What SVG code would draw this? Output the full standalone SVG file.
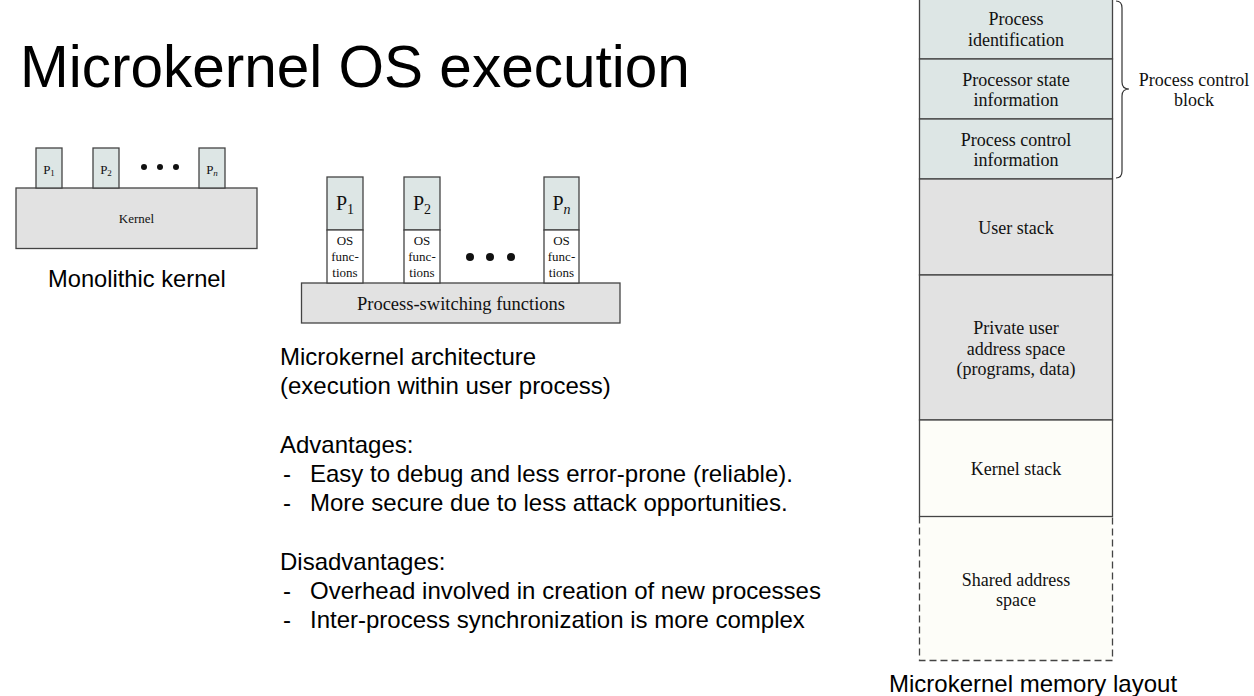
<svg xmlns="http://www.w3.org/2000/svg" width="1254" height="696" viewBox="0 0 1254 696">
  <style>
    .sans { font-family: "Liberation Sans", Arial, Helvetica, sans-serif; fill: #000; }
    .body { font-size: 24px; }
    .serif { font-family: "Liberation Serif", "Times New Roman", serif; fill: #111; text-anchor: middle; }
    .box { stroke: #444; stroke-width: 1.3; }
    .pcb { fill: #dde6e5; }
    .gray { fill: #e2e2e2; }
    .ivory { fill: #fdfdf8; }
    .white { fill: #ffffff; }
    .dot { fill: #111; }
  </style>

  <rect width="1254" height="696" fill="#ffffff"/>

  <!-- Title -->
  <text class="sans" x="20" y="87" font-size="58.5">Microkernel OS execution</text>

  <!-- Monolithic kernel -->
  <g id="monolithic">
    <g id="mono-kernel">
      <rect class="box gray" x="16" y="188" width="241" height="60.5"/>
      <text class="serif" x="136.5" y="223" font-size="13">Kernel</text>
    </g>
    <g id="mono-p1">
      <rect class="box pcb" x="36" y="148" width="26" height="40"/>
      <text class="serif" x="49" y="174" font-size="13">P<tspan font-size="9" dy="2">1</tspan></text>
    </g>
    <g id="mono-p2">
      <rect class="box pcb" x="93" y="148" width="26" height="40"/>
      <text class="serif" x="106" y="174" font-size="13">P<tspan font-size="9" dy="2">2</tspan></text>
    </g>
    <g id="mono-pn">
      <rect class="box pcb" x="199" y="148" width="26" height="40"/>
      <text class="serif" x="212" y="174" font-size="13">P<tspan font-size="9" dy="2" font-style="italic">n</tspan></text>
    </g>
    <circle class="dot" cx="144" cy="167" r="3"/>
    <circle class="dot" cx="160" cy="167" r="3"/>
    <circle class="dot" cx="176" cy="167" r="3"/>
    <text class="sans" x="48" y="287" font-size="23.7">Monolithic kernel</text>
  </g>

  <!-- Microkernel architecture -->
  <g id="microkernel">
    <g id="micro-switch">
      <rect class="box gray" x="301.5" y="283" width="318.5" height="40"/>
      <text class="serif" x="461" y="310" font-size="18.5">Process-switching functions</text>
    </g>
    <g id="micro-p1">
      <rect class="box pcb" x="327" y="177" width="36" height="53"/>
      <text class="serif" x="345" y="210" font-size="20">P<tspan font-size="14" dy="4">1</tspan></text>
      <rect class="box white" x="327" y="230" width="36" height="53"/>
      <text class="serif" x="345" y="245" font-size="13">OS</text>
      <text class="serif" x="345" y="261" font-size="13">func-</text>
      <text class="serif" x="345" y="277" font-size="13">tions</text>
    </g>
    <g id="micro-p2">
      <rect class="box pcb" x="404" y="177" width="36" height="53"/>
      <text class="serif" x="422" y="210" font-size="20">P<tspan font-size="14" dy="4">2</tspan></text>
      <rect class="box white" x="404" y="230" width="36" height="53"/>
      <text class="serif" x="422" y="245" font-size="13">OS</text>
      <text class="serif" x="422" y="261" font-size="13">func-</text>
      <text class="serif" x="422" y="277" font-size="13">tions</text>
    </g>
    <g id="micro-pn">
      <rect class="box pcb" x="544" y="177" width="35" height="53"/>
      <text class="serif" x="561.5" y="210" font-size="20">P<tspan font-size="14" dy="4" font-style="italic">n</tspan></text>
      <rect class="box white" x="544" y="230" width="35" height="53"/>
      <text class="serif" x="561.5" y="245" font-size="13">OS</text>
      <text class="serif" x="561.5" y="261" font-size="13">func-</text>
      <text class="serif" x="561.5" y="277" font-size="13">tions</text>
    </g>
    <circle class="dot" cx="470" cy="257" r="4"/>
    <circle class="dot" cx="490" cy="257" r="4"/>
    <circle class="dot" cx="511" cy="257" r="4"/>
  </g>

  <!-- Notes -->
  <g class="sans body">
    <text x="280" y="365">Microkernel architecture</text>
    <text x="280" y="394">(execution within user process)</text>
    <text x="280" y="453">Advantages:</text>
    <text x="283" y="482">-</text>
    <text x="310" y="482">Easy to debug and less error-prone (reliable).</text>
    <text x="283" y="511">-</text>
    <text x="310" y="511">More secure due to less attack opportunities.</text>
    <text x="280" y="570">Disadvantages:</text>
    <text x="283" y="599">-</text>
    <text x="310" y="599">Overhead involved in creation of new processes</text>
    <text x="283" y="628">-</text>
    <text x="310" y="628">Inter-process synchronization is more complex</text>
  </g>

  <!-- Memory layout -->
  <g id="memory-layout">
    <g id="mem-shared">
      <rect class="ivory" x="919.5" y="516.5" width="193" height="144"/>
      <path d="M919.5 516.5 V660.5 H1112.5 V516.5" fill="none" stroke="#444" stroke-width="1.3" stroke-dasharray="7 4"/>
      <text class="serif" x="1016" y="586" font-size="18">Shared address</text>
      <text class="serif" x="1016" y="606" font-size="18">space</text>
    </g>
    <g id="mem-pid">
      <rect class="box pcb" x="919.5" y="-1" width="193" height="60"/>
      <text class="serif" x="1016" y="25" font-size="18">Process</text>
      <text class="serif" x="1016" y="46" font-size="18">identification</text>
    </g>
    <g id="mem-cpu-state">
      <rect class="box pcb" x="919.5" y="59" width="193" height="60"/>
      <text class="serif" x="1016" y="86" font-size="18">Processor state</text>
      <text class="serif" x="1016" y="106" font-size="18">information</text>
    </g>
    <g id="mem-control">
      <rect class="box pcb" x="919.5" y="119" width="193" height="60"/>
      <text class="serif" x="1016" y="146" font-size="18">Process control</text>
      <text class="serif" x="1016" y="166" font-size="18">information</text>
    </g>
    <g id="mem-user-stack">
      <rect class="box gray" x="919.5" y="179" width="193" height="96"/>
      <text class="serif" x="1016" y="234" font-size="18">User stack</text>
    </g>
    <g id="mem-private">
      <rect class="box gray" x="919.5" y="275" width="193" height="145"/>
      <text class="serif" x="1016" y="334" font-size="18">Private user</text>
      <text class="serif" x="1016" y="355" font-size="18">address space</text>
      <text class="serif" x="1016" y="375" font-size="18">(programs, data)</text>
    </g>
    <g id="mem-kernel-stack">
      <rect class="box ivory" x="919.5" y="420" width="193" height="96.5"/>
      <text class="serif" x="1016" y="475" font-size="18">Kernel stack</text>
    </g>
    <g id="pcb-brace">
      <path d="M1116 1 Q1122 1 1122 8 V82 Q1122 89 1129 89 Q1122 89 1122 96 V171 Q1122 178 1116 178" fill="none" stroke="#333" stroke-width="1.2"/>
      <text class="serif" x="1194" y="86" font-size="18">Process control</text>
      <text class="serif" x="1194" y="106" font-size="18">block</text>
    </g>
    <text class="sans" x="889" y="692" font-size="24">Microkernel memory layout</text>
  </g>
</svg>
